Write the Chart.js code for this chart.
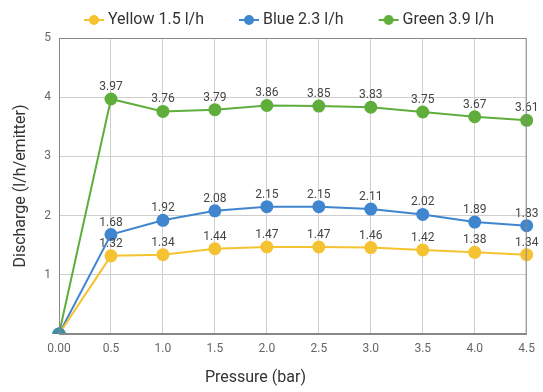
<!DOCTYPE html>
<html><head><meta charset="utf-8">
<script src="https://cdn.jsdelivr.net/npm/chart.js@4/dist/chart.umd.min.js"></script>
<style>html,body{margin:0;padding:0;background:#fff}#wrap{width:543px;height:392px}</style>
</head><body><div id="wrap"><canvas id="c" width="543" height="392"></canvas></div>
<script>
const pressures = ["0.00","0.5","1.0","1.5","2.0","2.5","3.0","3.5","4.0","4.5"];
const yellow = [0, 1.32, 1.34, 1.44, 1.47, 1.47, 1.46, 1.42, 1.38, 1.34];
const blue   = [0, 1.68, 1.92, 2.08, 2.15, 2.15, 2.11, 2.02, 1.89, 1.83];
const green  = [0, 3.97, 3.76, 3.79, 3.86, 3.85, 3.83, 3.75, 3.67, 3.61];
const seriesNames = ["Yellow 1.5 l/h","Blue 2.3 l/h","Green 3.9 l/h"];
const colors = ["#f5c232","#3f86cf","#5fae3c"];
const originColor = "#3d8ea5";

function legendIcon(color){
  // wide transparent canvas: icon sits at right end, leaving blank space on the left
  const c=document.createElement('canvas'); c.width=56; c.height=14;
  const g=c.getContext('2d');
  g.strokeStyle=color; g.lineWidth=2; g.beginPath(); g.moveTo(32,7); g.lineTo(52,7); g.stroke();
  g.fillStyle=color; g.beginPath(); g.arc(42,7,5,0,Math.PI*2); g.fill();
  return c;
}

const labelPlugin={id:'vlabels',afterDatasetsDraw(chart){
  const ctx=chart.ctx; ctx.save();
  ctx.font='12px Roboto'; ctx.fillStyle='#444'; ctx.textAlign='center'; ctx.textBaseline='bottom';
  chart.data.datasets.forEach((ds,i)=>{
    const meta=chart.getDatasetMeta(i);
    meta.data.forEach((pt,j)=>{ if(j===0) return; ctx.fillText(ds.data[j].toFixed(2),pt.x,pt.y-6); });
  });
  ctx.restore();
}};
const xTitlePlugin={id:'xtitle',afterDraw(chart){
  const ctx=chart.ctx, a=chart.chartArea; ctx.save();
  ctx.font='16px Roboto'; ctx.fillStyle='#333'; ctx.textAlign='center'; ctx.textBaseline='middle';
  ctx.fillText('Pressure (bar)', a.left + a.width*0.42, 378);
  ctx.restore();
}};
const legendShift={id:'legendShift',afterLayout(chart){ if(chart.legend){ chart.legend.left += 24; } }};

const ds=[yellow,blue,green].map((d,i)=>{
  const pc=d.map((v,j)=>j===0?originColor:colors[i]);
  return {label:seriesNames[i],data:d,borderColor:colors[i],backgroundColor:colors[i],
  borderWidth:2,pointRadius:5.5,pointHoverRadius:5.5,pointBackgroundColor:pc,pointBorderColor:pc,tension:0};
});

new Chart(document.getElementById('c'),{
  type:'line',
  data:{labels:pressures,datasets:ds},
  options:{
    responsive:false,animation:false,
    layout:{padding:{left:0,right:13,top:1,bottom:0}},
    plugins:{
      legend:{position:'top',labels:{
        font:{family:'Roboto',size:16},color:'#333',pointStyleWidth:40,padding:11,usePointStyle:true,
        generateLabels(chart){return chart.data.datasets.map((d,i)=>({text:d.label,pointStyle:legendIcon(colors[i]),fillStyle:colors[i],strokeStyle:colors[i],lineWidth:0,datasetIndex:i,fontColor:'#333'}));}
      }},
      tooltip:{enabled:false}
    },
    scales:{
      x:{offset:false,grid:{color:'#cfcfcf',drawTicks:false},border:{color:'#888',width:1},
        ticks:{font:{family:'Roboto',size:12},color:'#666',padding:8,maxRotation:0},
        afterFit(s){s.height=58;}},
      y:{min:0,max:5,grid:{color:'#cfcfcf',drawTicks:false},border:{color:'#888',width:1},
        ticks:{stepSize:1,font:{family:'Roboto',size:12},color:'#666',padding:8,callback:(v)=>v===0?'':v},
        title:{display:true,text:'Discharge (l/h/emitter)',font:{family:'Roboto',size:16},color:'#333',padding:{top:11,bottom:4}},
        afterFit(s){s.width=59;}}
    }
  },
  plugins:[labelPlugin,xTitlePlugin,legendShift,{id:'frame',afterDraw(chart){const a=chart.chartArea,ctx=chart.ctx;ctx.save();ctx.strokeStyle='#888';ctx.lineWidth=1;ctx.strokeRect(a.left+0.5,a.top+0.5,a.width-1,a.height-1);ctx.restore();}}]
});
</script></body></html>
